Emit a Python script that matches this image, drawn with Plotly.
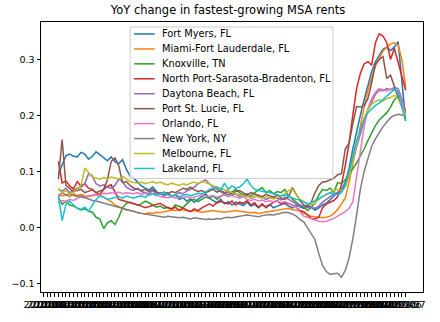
import plotly.graph_objects as go

# Monthly categories (2014-07 .. 2022-07); first four months have no YoY value
months = [f"{2014 + (m - 1) // 12}-{(m - 1) % 12 + 1:02d}" for m in range(7, 7 + 97)]
n_missing = 4

fort_myers = [0.095, 0.112, 0.128, 0.131, 0.127, 0.126, 0.134, 0.131, 0.122, 0.127,
              0.135, 0.130, 0.124, 0.119, 0.126, 0.117, 0.114, 0.121, 0.104, 0.092,
              0.088, 0.080, 0.074, 0.070, 0.067, 0.072, 0.064, 0.060, 0.057, 0.062,
              0.055, 0.058, 0.050, 0.053, 0.047, 0.051, 0.045, 0.050, 0.055, 0.060,
              0.052, 0.048, 0.044, 0.050, 0.042, 0.046, 0.040, 0.045, 0.042, 0.039,
              0.045, 0.038, 0.041, 0.035, 0.040, 0.037, 0.041, 0.035, 0.038, 0.041,
              0.043, 0.038, 0.035, 0.040, 0.037, 0.034, 0.040, 0.036, 0.031, 0.035,
              0.040, 0.043, 0.050, 0.056, 0.062, 0.068, 0.080, 0.105, 0.140, 0.172,
              0.200, 0.228, 0.255, 0.278, 0.296, 0.308, 0.318, 0.322, 0.316, 0.322,
              0.332, 0.262, 0.190]
miami = [0.060, 0.056, 0.058, 0.055, 0.060, 0.057, 0.059, 0.056, 0.055, 0.057,
         0.058, 0.056, 0.054, 0.050, 0.046, 0.040, 0.037, 0.034, 0.031, 0.030,
         0.028, 0.026, 0.025, 0.024, 0.026, 0.025, 0.027, 0.026, 0.028, 0.030,
         0.031, 0.030, 0.032, 0.031, 0.030, 0.029, 0.030, 0.028, 0.027, 0.028,
         0.029, 0.030, 0.029, 0.028, 0.027, 0.028, 0.029, 0.030, 0.029, 0.028,
         0.027, 0.026, 0.027, 0.025, 0.026, 0.027, 0.028, 0.030, 0.031, 0.032,
         0.033, 0.034, 0.032, 0.031, 0.029, 0.025, 0.022, 0.020, 0.019, 0.018,
         0.017, 0.018, 0.020, 0.025, 0.032, 0.042, 0.052, 0.080, 0.115, 0.150,
         0.185, 0.215, 0.245, 0.268, 0.288, 0.302, 0.315, 0.322, 0.328, 0.330,
         0.326, 0.300, 0.250]
knoxville = [0.053, 0.041, 0.047, 0.040, 0.038, 0.035, 0.031, 0.033, 0.029, 0.027,
             0.018, 0.015, -0.002, 0.008, 0.012, 0.005, 0.018, 0.035, 0.043, 0.045,
             0.043, 0.040, 0.042, 0.047, 0.044, 0.040, 0.036, 0.038, 0.034, 0.036,
             0.033, 0.040, 0.038, 0.035, 0.042, 0.048, 0.050, 0.046, 0.050, 0.054,
             0.052, 0.056, 0.050, 0.055, 0.060, 0.058, 0.063, 0.068, 0.062, 0.058,
             0.060, 0.056, 0.062, 0.066, 0.071, 0.062, 0.066, 0.060, 0.064, 0.062,
             0.068, 0.056, 0.050, 0.045, 0.040, 0.036, 0.030, 0.036, 0.044, 0.058,
             0.068, 0.066, 0.070, 0.063, 0.080, 0.078, 0.085, 0.095, 0.105, 0.115,
             0.128, 0.140, 0.155, 0.170, 0.182, 0.192, 0.198, 0.205, 0.215, 0.228,
             0.234, 0.215, 0.200]
north_port = [0.118, 0.079, 0.083, 0.074, 0.069, 0.082, 0.074, 0.078, 0.070, 0.068,
              0.062, 0.059, 0.068, 0.073, 0.076, 0.064, 0.050, 0.048, 0.046, 0.045,
              0.043, 0.040, 0.038, 0.035, 0.037, 0.039, 0.041, 0.043, 0.039, 0.035,
              0.033, 0.036, 0.030, 0.035, 0.031, 0.028, 0.033, 0.030, 0.035, 0.038,
              0.042, 0.038, 0.044, 0.046, 0.044, 0.042, 0.047, 0.040, 0.045, 0.043,
              0.048, 0.040, 0.044, 0.036, 0.042, 0.035, 0.040, 0.045, 0.048, 0.041,
              0.045, 0.043, 0.040, 0.036, 0.030, 0.028, 0.022, 0.016, 0.015, 0.018,
              0.035, 0.042, 0.045, 0.048, 0.055, 0.076, 0.110, 0.150, 0.200, 0.248,
              0.275, 0.292, 0.296, 0.290, 0.330, 0.346, 0.342, 0.330, 0.300, 0.320,
              0.295, 0.272, 0.245]
daytona = [0.068, 0.065, 0.070, 0.062, 0.066, 0.070, 0.072, 0.078, 0.096, 0.092,
           0.078, 0.074, 0.076, 0.072, 0.070, 0.075, 0.086, 0.082, 0.072, 0.068,
           0.066, 0.070, 0.064, 0.062, 0.060, 0.066, 0.058, 0.062, 0.056, 0.060,
           0.055, 0.058, 0.062, 0.060, 0.065, 0.068, 0.072, 0.078, 0.082, 0.085,
           0.078, 0.072, 0.068, 0.064, 0.060, 0.063, 0.058, 0.060, 0.055, 0.058,
           0.056, 0.052, 0.055, 0.057, 0.054, 0.050, 0.053, 0.055, 0.052, 0.049,
           0.054, 0.050, 0.046, 0.042, 0.040, 0.038, 0.035, 0.036, 0.034, 0.038,
           0.045, 0.050, 0.055, 0.060, 0.062, 0.065, 0.075, 0.095, 0.120, 0.145,
           0.168, 0.190, 0.210, 0.225, 0.238, 0.245, 0.244, 0.248, 0.246, 0.250,
           0.248, 0.230, 0.205]
port_st_lucie = [0.086, 0.157, 0.075, 0.070, 0.064, 0.066, 0.068, 0.062, 0.064, 0.067,
                 0.062, 0.065, 0.068, 0.085, 0.118, 0.124, 0.110, 0.080, 0.082, 0.075,
                 0.070, 0.068, 0.066, 0.068, 0.064, 0.068, 0.062, 0.060, 0.063, 0.060,
                 0.064, 0.062, 0.066, 0.070, 0.068, 0.072, 0.067, 0.064, 0.066, 0.062,
                 0.065, 0.068, 0.063, 0.066, 0.062, 0.065, 0.060, 0.064, 0.066, 0.062,
                 0.058, 0.062, 0.060, 0.058, 0.055, 0.059, 0.056, 0.054, 0.058, 0.052,
                 0.050, 0.055, 0.071, 0.060, 0.048, 0.040, 0.037, 0.045, 0.062, 0.075,
                 0.081, 0.082, 0.085, 0.088, 0.094, 0.096, 0.140, 0.150, 0.185, 0.216,
                 0.215, 0.217, 0.230, 0.258, 0.292, 0.300, 0.305, 0.266, 0.272, 0.251,
                 0.232, 0.220, 0.210]
orlando = [0.044, 0.048, 0.046, 0.050, 0.048, 0.052, 0.054, 0.053, 0.056, 0.058,
           0.059, 0.058, 0.061, 0.060, 0.062, 0.061, 0.063, 0.060, 0.062, 0.061,
           0.060, 0.062, 0.059, 0.061, 0.058, 0.060, 0.057, 0.055, 0.054, 0.053,
           0.055, 0.052, 0.054, 0.053, 0.055, 0.052, 0.054, 0.056, 0.058, 0.056,
           0.055, 0.057, 0.054, 0.056, 0.058, 0.055, 0.057, 0.054, 0.052, 0.055,
           0.050, 0.048, 0.050, 0.047, 0.049, 0.046, 0.048, 0.045, 0.047, 0.044,
           0.046, 0.043, 0.040, 0.036, 0.028, 0.020, 0.018, 0.015, 0.013, 0.011,
           0.010, 0.011, 0.013, 0.016, 0.020, 0.024, 0.028, 0.034, 0.045, 0.090,
           0.140, 0.180, 0.212, 0.230, 0.242, 0.248, 0.246, 0.244, 0.247, 0.246,
           0.244, 0.225, 0.200]
new_york = [0.055, 0.062, 0.058, 0.060, 0.057, 0.055, 0.056, 0.053, 0.050, 0.048,
            0.047, 0.045, 0.043, 0.042, 0.040, 0.038, 0.035, 0.034, 0.031, 0.030,
            0.029, 0.026, 0.025, 0.024, 0.022, 0.021, 0.020, 0.019, 0.018, 0.020,
            0.019, 0.018, 0.017, 0.018, 0.016, 0.015, 0.017, 0.016, 0.015, 0.014,
            0.015, 0.014, 0.016, 0.015, 0.017, 0.018, 0.017, 0.019, 0.020, 0.021,
            0.022, 0.021, 0.020, 0.019, 0.021, 0.022, 0.023, 0.022, 0.024, 0.026,
            0.027, 0.026, 0.024, 0.020, 0.014, 0.010, 0.000, -0.012, -0.022, -0.047,
            -0.068, -0.079, -0.084, -0.083, -0.082, -0.089, -0.077, -0.055, -0.021, 0.022,
            0.068, 0.100, 0.125, 0.145, 0.158, 0.170, 0.180, 0.188, 0.196, 0.200,
            0.202, 0.201, 0.198]
melbourne = [0.070, 0.062, 0.066, 0.060, 0.063, 0.068, 0.074, 0.106, 0.097, 0.090,
             0.088, 0.086, 0.089, 0.087, 0.090, 0.088, 0.086, 0.091, 0.086, 0.082,
             0.080, 0.079, 0.081, 0.078, 0.080, 0.082, 0.079, 0.081, 0.078, 0.076,
             0.079, 0.077, 0.075, 0.078, 0.076, 0.079, 0.081, 0.078, 0.082, 0.080,
             0.077, 0.074, 0.072, 0.070, 0.067, 0.064, 0.062, 0.060, 0.058, 0.056,
             0.055, 0.053, 0.056, 0.054, 0.052, 0.055, 0.053, 0.051, 0.054, 0.056,
             0.060, 0.066, 0.068, 0.058, 0.050, 0.046, 0.042, 0.040, 0.044, 0.050,
             0.055, 0.058, 0.062, 0.066, 0.068, 0.066, 0.072, 0.090, 0.120, 0.150,
             0.175, 0.195, 0.210, 0.220, 0.225, 0.228, 0.226, 0.230, 0.232, 0.236,
             0.230, 0.215, 0.200]
lakeland = [0.056, 0.012, 0.041, 0.047, 0.040, 0.034, 0.032, 0.036, 0.029, 0.040,
            0.050, 0.056, 0.054, 0.050, 0.052, 0.054, 0.055, 0.052, 0.056, 0.054,
            0.052, 0.055, 0.056, 0.054, 0.058, 0.060, 0.057, 0.060, 0.062, 0.058,
            0.056, 0.058, 0.055, 0.057, 0.059, 0.056, 0.058, 0.061, 0.060, 0.063,
            0.068, 0.070, 0.072, 0.066, 0.079, 0.068, 0.074, 0.070, 0.072, 0.078,
            0.086, 0.075, 0.068, 0.066, 0.065, 0.063, 0.062, 0.060, 0.058, 0.056,
            0.058, 0.055, 0.052, 0.050, 0.049, 0.046, 0.042, 0.044, 0.048, 0.052,
            0.056, 0.059, 0.062, 0.060, 0.058, 0.062, 0.075, 0.100, 0.130, 0.155,
            0.175, 0.192, 0.205, 0.212, 0.218, 0.222, 0.228, 0.234, 0.240, 0.247,
            0.242, 0.215, 0.190]

series_names = ["Fort Myers, FL", "Miami-Fort Lauderdale, FL", "Knoxville, TN",
                "North Port-Sarasota-Bradenton, FL", "Daytona Beach, FL",
                "Port St. Lucie, FL", "Orlando, FL", "New York, NY",
                "Melbourne, FL", "Lakeland, FL"]
series_values = [fort_myers, miami, knoxville, north_port, daytona,
                 port_st_lucie, orlando, new_york, melbourne, lakeland]
colors = ["#1f77b4", "#ff7f0e", "#2ca02c", "#d62728", "#9467bd",
          "#8c564b", "#e377c2", "#7f7f7f", "#bcbd22", "#17becf"]

y_ticks = [-0.1, 0.0, 0.1, 0.2, 0.3]
y_tick_text = ["\u22120.1", "0.0", "0.1", "0.2", "0.3"]

FONT = "DejaVu Sans"
W, H = 440, 322
ML, MR, MT, MB = 33, 17, 22, 29
PW, PH = W - ML - MR, H - MT - MB


def px(xp):
    return (xp - ML) / PW


def py(yp):
    return (H - MB - yp) / PH


fig = go.Figure()
for name, vals, col in zip(series_names, series_values, colors):
    fig.add_trace(go.Scatter(
        x=months, y=[None] * n_missing + vals, mode="lines", name=name,
        line=dict(color=col, width=1.5), connectgaps=False, showlegend=False))

# matplotlib-style legend box (drawn with shapes + text annotations)
shapes = [dict(type="rect", xref="paper", yref="paper", layer="above",
               x0=px(124), x1=px(331), y0=py(179), y1=py(27),
               fillcolor="rgba(255,255,255,0.8)", line=dict(color="#cccccc", width=1))]
annotations = []
for k, (name, col) in enumerate(zip(series_names, colors)):
    yc = 34 + 15 * k
    shapes.append(dict(type="line", xref="paper", yref="paper", layer="above",
                       x0=px(128), x1=px(149), y0=py(yc), y1=py(yc),
                       line=dict(color=col, width=1.5)))
    annotations.append(dict(text=name, xref="paper", yref="paper", x=px(154), y=py(yc),
                            xanchor="left", yanchor="middle", showarrow=False,
                            font=dict(family=FONT, size=9.8, color="black")))

fig.update_layout(
    width=W, height=H,
    margin=dict(l=ML, r=MR, t=MT, b=MB),
    paper_bgcolor="white", plot_bgcolor="white",
    font=dict(family=FONT, size=9.5, color="black"),
    title=dict(text="YoY change in fastest-growing MSA rents", x=228 / W, xanchor="center",
               y=1 - 10 / H, yanchor="middle", font=dict(family=FONT, size=11.5, color="black")),
    showlegend=False,
    shapes=shapes,
    annotations=annotations,
)
fig.update_xaxes(type="category", categoryorder="array", categoryarray=months,
                 range=[-0.6, 100.6], tickmode="array", tickvals=months, ticktext=months,
                 tickangle=0, ticks="outside", ticklen=3.5, tickcolor="black",
                 showline=True, linecolor="black", linewidth=1, mirror=True,
                 showgrid=False, zeroline=False, tickfont=dict(size=9.5))
fig.update_yaxes(range=[-0.1155, 0.367], tickmode="array", tickvals=y_ticks,
                 ticktext=y_tick_text, ticks="outside", ticklen=3.5, tickcolor="black",
                 showline=True, linecolor="black", linewidth=1, mirror=True,
                 showgrid=False, zeroline=False, tickfont=dict(size=9.5))

fig.write_html("out.html")
